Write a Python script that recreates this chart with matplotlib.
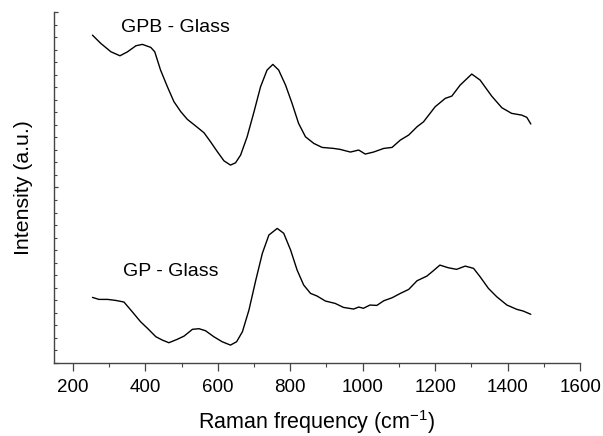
import matplotlib
matplotlib.use("Agg")
import matplotlib.pyplot as plt
from matplotlib.ticker import MultipleLocator, FixedLocator, NullFormatter

plt.rcParams['font.family'] = ['Liberation Sans', 'DejaVu Sans']
plt.rcParams['mathtext.default'] = 'regular'

# GPB - Glass spectrum (offset upper curve), arbitrary units
gpb_x = [254, 277, 305, 330, 351, 374, 392, 415, 426, 442, 461, 479, 498, 516, 539,
         562, 580, 599, 617, 635, 649, 663, 681, 700, 718, 736, 752, 768, 787, 805,
         823, 842, 865, 888, 920, 938, 966, 989, 1007, 1030, 1058, 1081, 1104, 1127,
         1150, 1168, 1200, 1228, 1246, 1269, 1301, 1324, 1356, 1384, 1411, 1439, 1453, 1464]
gpb_y = [26.17, 25.51, 24.84, 24.52, 24.84, 25.32, 25.43, 25.19, 24.84, 23.38, 22.04,
         20.85, 20.05, 19.44, 18.91, 18.37, 17.65, 16.85, 16.13, 15.79, 15.97, 16.59,
         18.05, 20.05, 22.04, 23.38, 23.83, 23.38, 22.18, 20.72, 19.12, 18.05, 17.52,
         17.20, 17.12, 17.04, 16.83, 16.99, 16.67, 16.83, 17.12, 17.20, 17.79, 18.19,
         18.85, 19.25, 20.45, 21.12, 21.30, 22.18, 23.06, 22.58, 21.30, 20.37, 19.92,
         19.78, 19.60, 19.07]

# GP - Glass spectrum (lower curve)
gp_x = [254, 272, 296, 318, 341, 364, 387, 406, 429, 447, 465, 488, 507, 530, 548,
        566, 589, 612, 635, 652, 668, 686, 705, 723, 741, 764, 782, 801, 819, 837,
        856, 874, 897, 924, 947, 975, 989, 1002, 1020, 1039, 1058, 1081, 1104, 1127,
        1150, 1177, 1195, 1213, 1236, 1259, 1283, 1306, 1324, 1347, 1370, 1398, 1425,
        1443, 1464]
gp_y = [5.22, 5.06, 5.06, 4.98, 4.85, 4.07, 3.27, 2.75, 2.08, 1.81, 1.60, 1.87, 2.13,
        2.67, 2.72, 2.56, 2.08, 1.68, 1.41, 1.68, 2.48, 4.21, 6.61, 8.74, 10.20, 10.73,
        10.34, 9.00, 7.40, 6.21, 5.54, 5.33, 4.93, 4.74, 4.42, 4.29, 4.45, 4.35, 4.61,
        4.58, 4.95, 5.19, 5.54, 5.86, 6.55, 6.92, 7.35, 7.80, 7.59, 7.46, 7.72, 7.54,
        6.87, 5.94, 5.27, 4.61, 4.27, 4.13, 3.87]

x_ticks = [200, 400, 600, 800, 1000, 1200, 1400, 1600]

fig = plt.figure(figsize=(6.03, 4.36), dpi=100)
ax = fig.add_axes([0.0896, 0.168, 0.8724, 0.804])

for xs, ys in [(gpb_x, gpb_y), (gp_x, gp_y)]:
    ax.plot(xs, ys, color='black', lw=1.0, solid_joinstyle='round',
            solid_capstyle='round', antialiased=True)

ax.set_xlim(148, 1600)
ax.set_ylim(0, 28)

for s in ['top', 'right']:
    ax.spines[s].set_visible(False)
for s in ['left', 'bottom']:
    ax.spines[s].set_color('#444444')
    ax.spines[s].set_linewidth(1.0)

ax.xaxis.set_major_locator(FixedLocator(x_ticks))
ax.xaxis.set_minor_locator(MultipleLocator(100))
ax.tick_params(axis='x', which='major', direction='out', length=5.5, width=0.9,
               color='#444444', labelsize=13.5, pad=6)
ax.tick_params(axis='x', which='minor', direction='out', length=3, width=0.8,
               color='#444444')

ax.yaxis.set_major_locator(FixedLocator([0, 14, 28]))
ax.yaxis.set_minor_locator(MultipleLocator(1))
ax.yaxis.set_major_formatter(NullFormatter())
ax.tick_params(axis='y', which='major', direction='in', length=3, width=0.9, color='#444444')
ax.tick_params(axis='y', which='minor', direction='in', length=2, width=0.8, color='#444444')

ax.set_xlabel('Raman frequency (cm$^{-1}$)', fontsize=15.5, labelpad=9)
ax.set_ylabel('Intensity (a.u.)', fontsize=15.3, labelpad=11.5)

ax.text(334, 26.8, 'GPB - Glass', fontsize=14, va='center', ha='left')
ax.text(338, 7.27, 'GP - Glass', fontsize=14, va='center', ha='left')

fig.savefig('out.png', dpi=100)
